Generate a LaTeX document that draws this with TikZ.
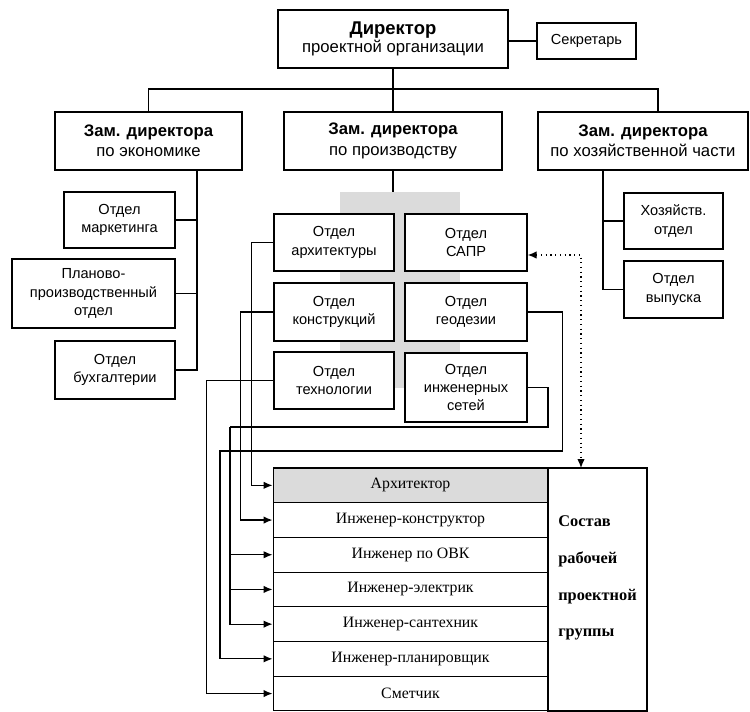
\documentclass[tikz,border=0pt]{standalone}
\usepackage{fontspec}
\setmainfont{Liberation Serif}
\setsansfont{Liberation Sans}
\usetikzlibrary{arrows.meta}

\tikzset{
  box/.style={draw, line width=0.8pt, align=center, inner sep=2pt,
    font=\sffamily\fontsize{8.3}{10.5}\selectfont},
  zambox/.style={box, minimum width=#1, minimum height=1.16cm,
    font=\sffamily\fontsize{9.5}{11.5}\selectfont},
  rowbox/.style={draw, line width=0.6pt, minimum width=5.5cm, minimum height=0.694cm,
    inner sep=0pt, font=\fontsize{9}{11}\selectfont},
  link/.style={line width=0.7pt},
}

\begin{document}
\begin{tikzpicture}[>={Latex[length=1.8mm,width=1.5mm]}, x=0.02cm, y=-0.02cm]
    \useasboundingbox (0,0) rectangle (750,712);

    % 1. Директор, секретарь и заместители
    \node[box, minimum width=4.6cm, minimum height=1.16cm] (dir) at (393,39)
        {{\fontsize{10.5}{13}\selectfont\bfseries Директор}\\{\fontsize{9.5}{11.5}\selectfont проектной организации}};
    \node[box, minimum width=1.98cm, minimum height=0.72cm] (sec) at (586.5,41) {Секретарь};
    \node[zambox=3.74cm] (zamE) at (148.5,141) {\textbf{Зам. директора}\\по экономике};
    \node[zambox=4.36cm] (zamP) at (393,141) {\textbf{Зам. директора}\\по производству};
    \node[zambox=4.2cm] (zamH) at (643,141) {\textbf{Зам. директора}\\по хозяйственной части};

    \draw[link] (sec.west) -- (sec.west -| dir.east);
    \draw[link] (dir.south) -- (zamP.north);
    \coordinate (bus) at (393,89);
    \draw[link] (zamE.north) |- (bus) -| ([xshift=0.3cm]zamH.north);

    % 2. Отделы по экономике
    \node[box, minimum width=2.22cm, minimum height=1.12cm] (mark) at (119.5,220) {Отдел\\маркетинга};
    \node[box, minimum width=3.26cm, minimum height=1.38cm] (plan) at (93.5,293.5) {Планово-\\производственный\\отдел};
    \node[box, minimum width=2.4cm, minimum height=1.16cm] (buh) at (115,370) {Отдел\\бухгалтерии};
    \coordinate (econ) at ([xshift=0.97cm]zamE.south);
    \draw[link] (econ) |- (buh.east);
    \draw[link] (mark.east) -- (mark.east -| econ);
    \draw[link] (plan.east) -- (plan.east -| econ);

    % 3. Отделы по хозяйственной части
    \node[box, minimum width=1.98cm, minimum height=1.12cm] (hoz) at (673.5,221) {Хозяйств.\\отдел};
    \node[box, minimum width=1.98cm, minimum height=1.14cm] (vyp) at (673.5,289.5) {Отдел\\выпуска};
    \coordinate (hozc) at ([xshift=-0.8cm]zamH.south);
    \draw[link] (hozc) |- (vyp.west);
    \draw[link] (hoz.west) -- (hoz.west -| hozc);

    % 4. Производственные отделы на сером фоне
    \node[fill=gray!28, minimum width=2.4cm, minimum height=3.92cm, inner sep=0pt] (prodbg) at (400,290) {};
    \draw[link] (zamP.south) -- (zamP.south |- prodbg.north);
    \node[box, minimum width=2.4cm, minimum height=1.14cm, fill=white] (arch) at (334,242.5) {Отдел\\архитектуры};
    \node[box, minimum width=2.44cm, minimum height=1.14cm, fill=white] (sapr) at (466,242.5) {Отдел\\САПР};
    \node[box, minimum width=2.4cm, minimum height=1.16cm, fill=white] (constr) at (334,312) {Отдел\\конструкций};
    \node[box, minimum width=2.44cm, minimum height=1.16cm, fill=white] (geod) at (466,312) {Отдел\\геодезии};
    \node[box, minimum width=2.4cm, minimum height=1.14cm, fill=white] (tech) at (334,380.5) {Отдел\\технологии};
    \node[box, minimum width=2.44cm, minimum height=1.38cm, fill=white] (nets) at (466,387.5) {Отдел\\инженерных\\сетей};

    % 5. Состав рабочей проектной группы
    \foreach \t [count=\i] in {Архитектор, Инженер-конструктор, Инженер по ОВК, Инженер-электрик,
        Инженер-сантехник, Инженер-планировщик, Сметчик}
        \node[rowbox] (r\i) at (410.5,{468+34.7*(\i-0.5)}) {\t};
    \node[rowbox, fill=gray!28] at (r1) {Архитектор};
    \node[draw, line width=0.8pt, minimum width=1.98cm, minimum height=4.86cm, inner sep=0pt,
        label={[align=left, yshift=0.23cm, font=\fontsize{9.3}{21}\selectfont\bfseries]center:Состав\\рабочей\\проектной\\группы}]
        (grp) at (597.5,589.5) {};

    % 6. Связи отделов с членами группы
    \draw[link, ->] (arch.west) -- ++(-22,0) |- (r1.west);
    \draw[link, ->] (constr.west) -- ++(-33,0) |- (r2.west);
    \draw[link, ->] (tech.west) -- ++(-67,0) |- (r7.west);
    \coordinate (netsbus) at (230,427);
    \draw[link] (nets.east) -| (548,427) -- (netsbus);
    \foreach \r in {r3, r4, r5} \draw[link, ->] (netsbus) |- (\r.west);
    \draw[link, ->] (geod.east) -- ++(35,0) |- (220,451) |- (r6.west);
    \coordinate (grptop) at (581,468);
    \draw[link, <->, dotted] ([yshift=-0.25cm]sapr.east) -| (grptop);

\end{tikzpicture}
\end{document}
